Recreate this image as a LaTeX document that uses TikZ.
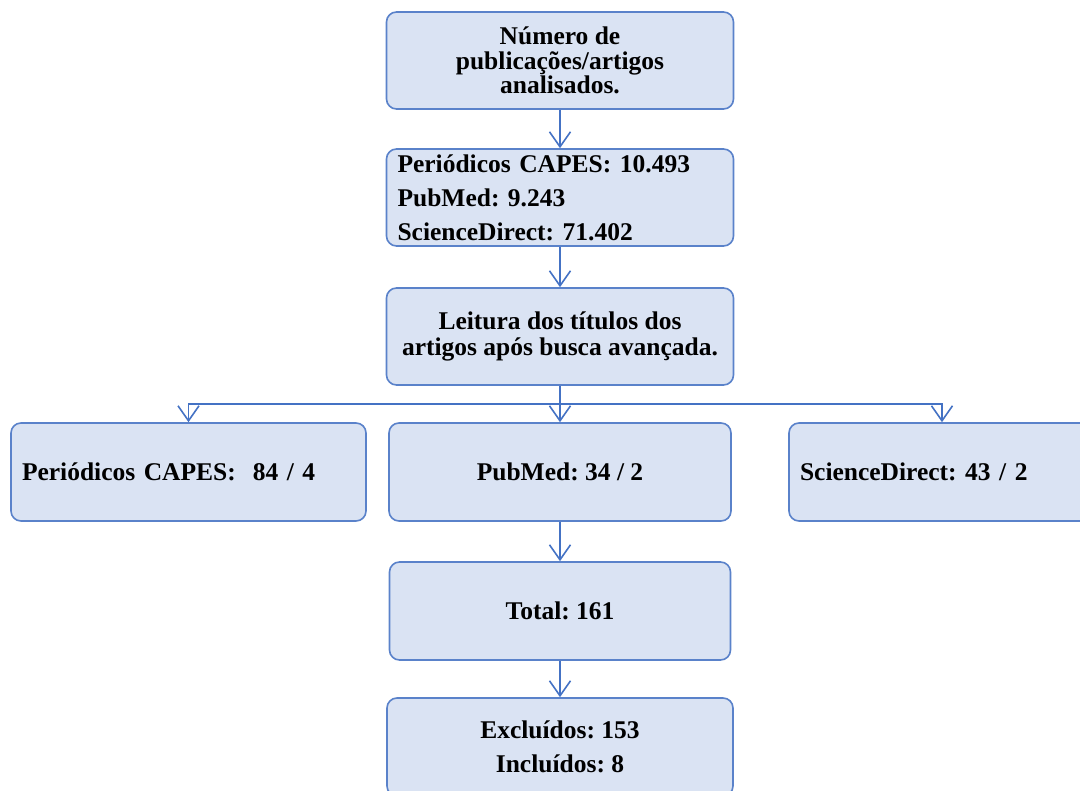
\documentclass[tikz,border=0pt]{standalone}
\usepackage{fontspec}
\setmainfont{Liberation Serif}
\usetikzlibrary{arrows.meta,positioning,calc}
\definecolor{boxfill}{HTML}{DAE3F3}
\definecolor{boxline}{HTML}{5A82CA}
\definecolor{flow}{HTML}{4472C4}
\frenchspacing

\begin{document}
\begin{tikzpicture}[x=1pt,y=-1pt,
    stagebox/.style={draw=boxline,fill=boxfill,line width=1.6pt,rounded corners=10pt,
      minimum height=97pt,inner sep=0pt,align=center,
      font=\fontsize{25.5}{24.5}\selectfont\bfseries},
    listbox/.style={stagebox,align=left,inner xsep=11pt,
      font=\fontsize{25.5}{34}\selectfont\bfseries},
    flowline/.style={draw=flow,line width=1.6pt},
    flowarrow/.style={flowline,-{Straight Barb[length=15pt,width=21pt,line width=1.6pt]}}]
  \useasboundingbox (0,0) rectangle (1080,791);

  % main column
  \node[stagebox,minimum width=347pt] (top) at (560,60.5) {Número de\\publicações/artigos\\analisados.};
  \node[listbox,text width=325pt,minimum width=347pt] (db) at (560,197.5)
    {Periódicos CAPES: 10.493\\PubMed: 9.243\\ScienceDirect: 71.402};
  \node[stagebox,minimum width=347pt,font=\fontsize{25.5}{25.5}\selectfont\bfseries] (lei) at (560,336.5) {Leitura dos títulos dos\\artigos após busca avançada.};

  % sources after reading
  \node[listbox,text width=333pt,minimum width=355pt,minimum height=98pt] (cap) at (188.5,472) {Periódicos CAPES:\ \ 84 / 4};
  \node[stagebox,minimum width=342pt,minimum height=98pt] (pub) at (560,472) {PubMed: 34 / 2};
  \node[listbox,text width=284pt,minimum width=306pt,minimum height=98pt] (sci) at (942,472) {ScienceDirect: 43 / 2};

  \node[stagebox,minimum width=341pt,minimum height=98pt,font=\fontsize{25.5}{34}\selectfont\bfseries] (tot) at (560,611) {Total: 161};
  \node[stagebox,minimum width=346pt,minimum height=98pt,font=\fontsize{25.5}{34}\selectfont\bfseries] (res) at (560,747) {Excluídos: 153\\Incluídos: 8};

  % connectors
  \foreach \a/\b in {top/db,db/lei,pub/tot,tot/res}
    \draw[flowarrow] (\a.south) -- (\b.north);
  \coordinate (split) at (560,404);
  \draw[flowline] (lei.south) -- (split);
  \foreach \b in {cap,pub,sci}
    \draw[flowarrow] (split) -| (\b.north);
\end{tikzpicture}
\end{document}
